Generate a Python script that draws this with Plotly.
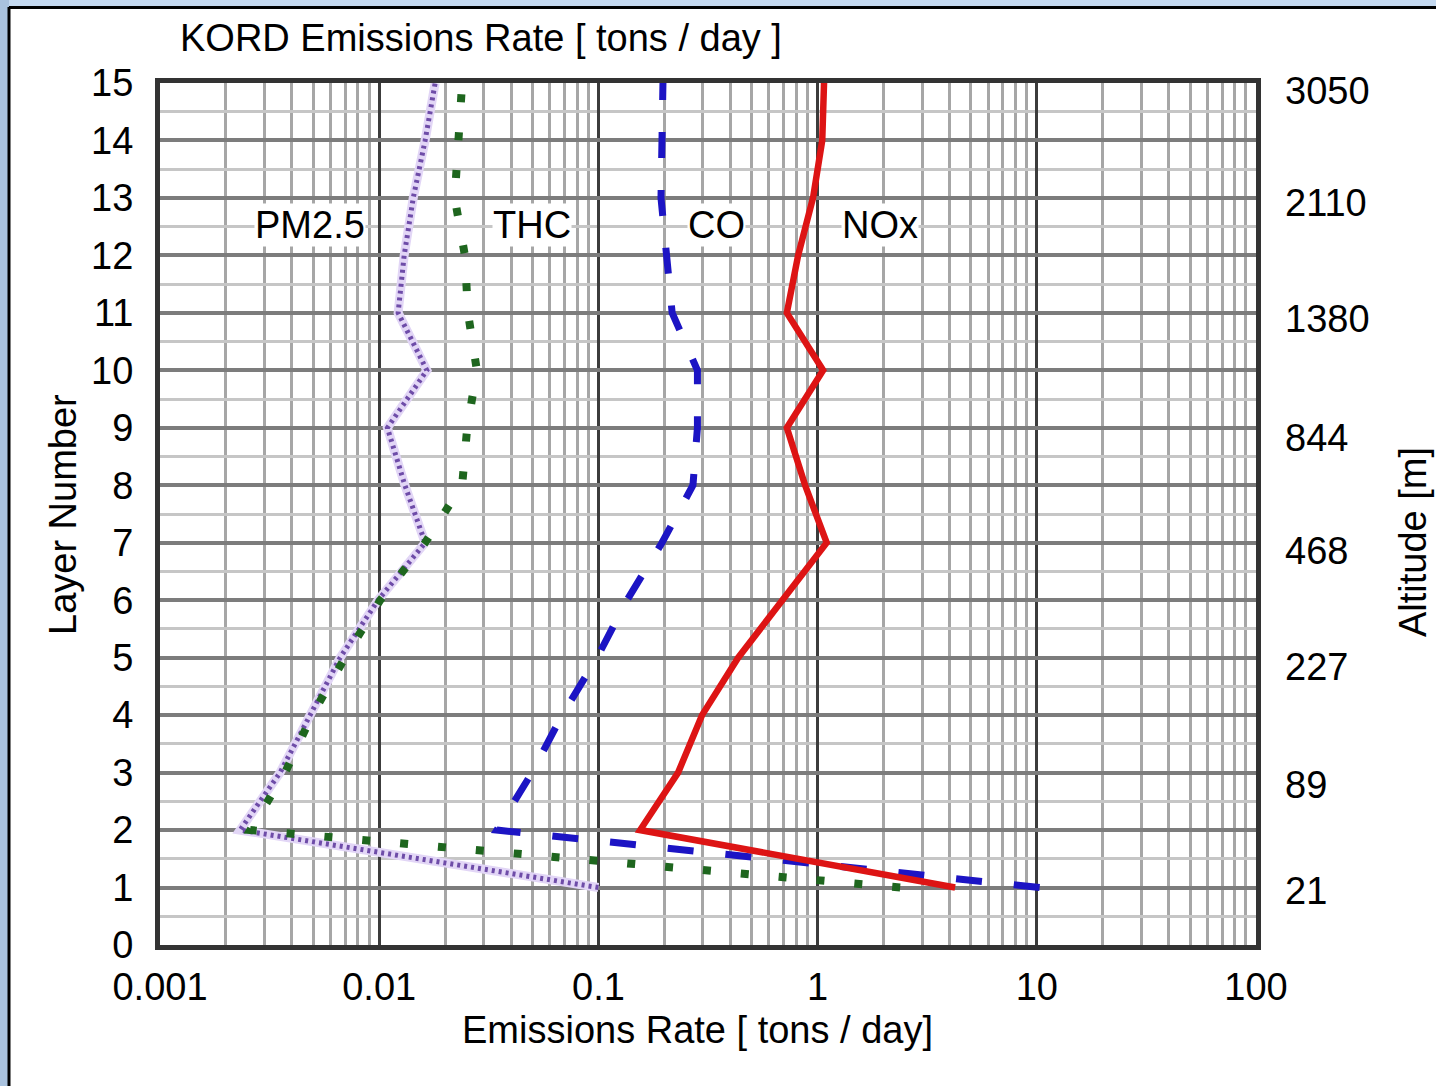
import plotly.graph_objects as go
import numpy as np

# ---------------- data ----------------
LAYERS = list(range(1, 16))
NOX = [4.24, 0.155, 0.231, 0.297, 0.434, 0.695, 1.10, 0.877, 0.724, 1.06, 0.724, 0.815, 0.953, 1.05, 1.07]
CO = [10.3, 0.0344, 0.0498, 0.0683, 0.0986, 0.135, 0.195, 0.270, 0.283, 0.283, 0.217, 0.205, 0.193, 0.195, 0.197]
THC = [2.38, 0.00258, 0.00372, 0.00494, 0.00698, 0.0101, 0.0162, 0.0239, 0.0252, 0.0279, 0.0254, 0.0246, 0.0221, 0.0231, 0.0239]
PM25 = [0.1, 0.00232, 0.00353, 0.00484, 0.00663, 0.00988, 0.0162, 0.0131, 0.0109, 0.0165, 0.0122, 0.0130, 0.0143, 0.0162, 0.0180]

X_TICKS = [0.001, 0.01, 0.1, 1, 10, 100]
X_TICK_TEXT = ["0.001", "0.01", "0.1", "1", "10", "100"]
Y_TICKS = list(range(0, 16))
ALT_LABELS = ["21", "89", "227", "468", "844", "1380", "2110", "3050"]
ALT_POS = [0.94, 2.79, 4.84, 6.85, 8.82, 10.89, 12.91, 14.86]

SERIES_NAMES = ["PM2.5", "THC", "CO", "NOx"]
SERIES_LABEL_X = [0.00483, 0.0498, 0.3475, 1.93]
SERIES_LABEL_Y = 12.53

TITLE = "KORD Emissions Rate [ tons / day ]"
X_TITLE = "Emissions Rate [ tons / day]"
Y_TITLE = "Layer Number"
Y2_TITLE = "Altitude [m]"

# ---------------- layout geometry ----------------
W, H = 1436, 1086
L, R, T, B = 160, 180, 83, 141
PW, PH = W - L - R, H - T - B

def px_x(x):
    return (x - L) / PW

def px_y(y):
    return (H - B - y) / PH

FONT = "Liberation Sans, Arial, Helvetica, sans-serif"
FS = 38

fig = go.Figure()

# PM2.5: light lavender halo under a dotted purple line
fig.add_trace(go.Scatter(x=PM25, y=LAYERS, mode="lines", name="PM2.5 halo",
                         line=dict(color="#e2d6f6", width=9),
                         showlegend=False, hoverinfo="skip"))
fig.add_trace(go.Scatter(x=PM25, y=LAYERS, mode="lines", name="PM2.5",
                         line=dict(color="#6e4ca8", width=5, dash="3px,4px"),
                         showlegend=False))
fig.add_trace(go.Scatter(x=THC, y=LAYERS, mode="lines", name="THC",
                         line=dict(color="#1e661e", width=8, dash="8px,30px"),
                         showlegend=False))
fig.add_trace(go.Scatter(x=CO, y=LAYERS, mode="lines", name="CO",
                         line=dict(color="#1c14c4", width=7, dash="26px,32px"),
                         showlegend=False))
fig.add_trace(go.Scatter(x=NOX, y=LAYERS, mode="lines", name="NOx",
                         line=dict(color="#dd1414", width=6.5),
                         showlegend=False))

minor_x = [m * 10.0 ** e for e in range(-3, 2) for m in range(2, 10)]

fig.update_layout(
    width=W, height=H,
    margin=dict(l=L, r=R, t=T, b=B, pad=0),
    paper_bgcolor="white", plot_bgcolor="white",
    font=dict(family=FONT, size=FS, color="black"),
    xaxis=dict(
        type="log", range=[-3, 2],
        tickmode="array", tickvals=X_TICKS, ticktext=X_TICK_TEXT,
        showgrid=True, gridcolor="#3c3c3c", gridwidth=3,
        minor=dict(tickmode="array", tickvals=minor_x, showgrid=True,
                   gridcolor="#a6a6a6", gridwidth=2.5, ticks=""),
        showline=True, linecolor="#333333", linewidth=5, mirror=True,
        ticks="", zeroline=False, ticklabelstandoff=4,
        tickfont=dict(size=FS),
    ),
    yaxis=dict(
        range=[0, 15], tickmode="array", tickvals=Y_TICKS,
        showgrid=True, gridcolor="#7c7c7c", gridwidth=3.5,
        minor=dict(dtick=0.5, showgrid=True, gridcolor="#c6c6c6", gridwidth=3, ticks=""),
        showline=True, linecolor="#333333", linewidth=5, mirror=True,
        ticks="", zeroline=False, ticklabelstandoff=14,
        tickfont=dict(size=FS),
    ),
)

annotations = []
for name, lx in zip(SERIES_NAMES, SERIES_LABEL_X):
    annotations.append(dict(x=np.log10(lx), y=SERIES_LABEL_Y, xref="x", yref="y",
                            text=name, showarrow=False, bgcolor="white",
                            font=dict(size=FS), xanchor="center", yanchor="middle",
                            borderpad=0))
# right-hand altitude tick labels
for lab, pos in zip(ALT_LABELS, ALT_POS):
    annotations.append(dict(x=1, y=pos, xref="paper", yref="y", text=lab,
                            showarrow=False, xanchor="left", yanchor="middle",
                            xshift=27, font=dict(size=FS)))
annotations.append(dict(x=px_x(178), y=px_y(38), xref="paper", yref="paper",
                        text=TITLE, showarrow=False, xanchor="left", yanchor="middle",
                        font=dict(size=FS)))
annotations.append(dict(x=px_x(697), y=px_y(1030), xref="paper", yref="paper",
                        text=X_TITLE, showarrow=False, xanchor="center", yanchor="middle",
                        font=dict(size=FS)))
annotations.append(dict(x=px_x(63), y=px_y(515), xref="paper", yref="paper",
                        text=Y_TITLE, showarrow=False, xanchor="center", yanchor="middle",
                        textangle=-90, font=dict(size=FS)))
annotations.append(dict(x=px_x(1413), y=px_y(542), xref="paper", yref="paper",
                        text=Y2_TITLE, showarrow=False, xanchor="center", yanchor="middle",
                        textangle=-90, font=dict(size=FS)))
fig.update_layout(annotations=annotations)

# slide-frame decoration around the chart (light blue edge + black border)
shapes = [
    dict(type="rect", xref="paper", yref="paper", x0=px_x(0), x1=px_x(W), y0=px_y(0), y1=px_y(7),
         fillcolor="#c4d9f0", line=dict(width=0), layer="below"),
    dict(type="rect", xref="paper", yref="paper", x0=px_x(0), x1=px_x(9), y0=px_y(0), y1=px_y(H),
         fillcolor="#a9c2de", line=dict(width=0), layer="below"),
    dict(type="line", xref="paper", yref="paper", x0=px_x(9), x1=px_x(W), y0=px_y(7.5), y1=px_y(7.5),
         line=dict(color="black", width=3)),
    dict(type="line", xref="paper", yref="paper", x0=px_x(9), x1=px_x(9), y0=px_y(7), y1=px_y(H),
         line=dict(color="black", width=3)),
]
fig.update_layout(shapes=shapes)

fig.write_html("out.html")
